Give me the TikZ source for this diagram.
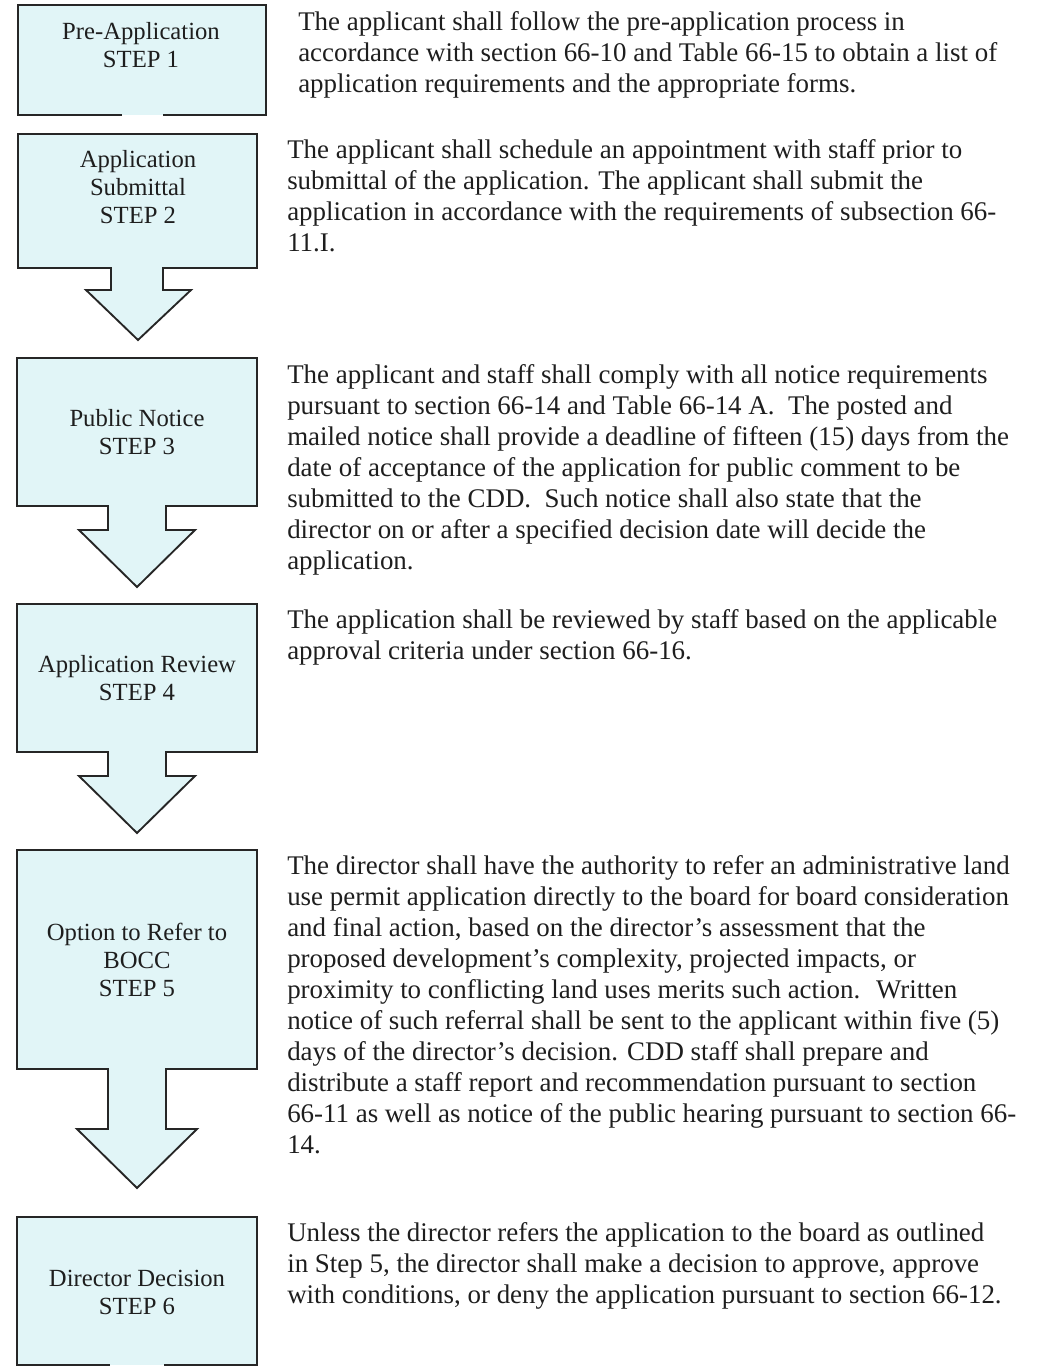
\documentclass[tikz,border=0pt]{standalone}
\usepackage{fontspec}
\setmainfont{Liberation Serif}
\usepackage{tikz}
\usetikzlibrary{positioning}
\definecolor{boxfill}{RGB}{225,245,247}
\definecolor{inkgray}{RGB}{30,30,30}
\tikzset{
    stepshape/.style={draw=black!85, fill=boxfill, line width=1.4pt, line join=miter},
    steplabel/.style={align=center, text=inkgray, inner sep=0pt, font=\fontsize{18.5}{21}\selectfont},
    steptext/.style={align=left, anchor=north west, text=inkgray, inner sep=0pt, font=\fontsize{20.2}{23.3}\selectfont}
}

\begin{document}
\begin{tikzpicture}[x=0.75pt, y=-0.75pt]
    \useasboundingbox (0,0) rectangle (1048,1366);
    % Shapes
    \draw [stepshape] (122,115) -- (18,115) -- (18,5) -- (266,5) -- (266,115) -- (163,115);
    \draw [stepshape] (18,134) -- (257,134) -- (257,268) -- (163,268) -- (163,290) -- (191,290)
        -- (138,340) -- (86,290) -- (111,290) -- (111,268) -- (18,268) -- cycle;
    \draw [stepshape] (17,358) -- (257,358) -- (257,506) -- (166,506) -- (166,530) -- (195,530)
        -- (137,587) -- (79,530) -- (108,530) -- (108,506) -- (17,506) -- cycle;
    \draw [stepshape] (17,604) -- (257,604) -- (257,752) -- (166,752) -- (166,776) -- (195,776)
        -- (137,833) -- (79,776) -- (108,776) -- (108,752) -- (17,752) -- cycle;
    \draw [stepshape] (17,850) -- (257,850) -- (257,1069) -- (166,1069) -- (166,1129) -- (197,1129)
        -- (137,1188) -- (77,1129) -- (108,1129) -- (108,1069) -- (17,1069) -- cycle;
    \fill [boxfill] (17,1217) rectangle (257,1365);
    \draw [stepshape, fill=none] (110,1365) -- (17,1365) -- (17,1217) -- (257,1217) -- (257,1365) -- (164,1365);
    % Step labels
    \node (s1) [steplabel] at (141,45) {Pre-Application\\STEP 1};
    \node (s2) [steplabel] at (138,187) {Application\\Submittal\\STEP 2};
    \node (s3) [steplabel] at (137,432) {Public Notice\\STEP 3};
    \node (s4) [steplabel] at (137,678) {Application Review\\STEP 4};
    \node (s5) [steplabel] at (137,960) {Option to Refer to\\BOCC\\STEP 5};
    \node (s6) [steplabel] at (137,1292) {Director Decision\\STEP 6};
    % Descriptions
    \node (d1) [steptext] at (298,11) {The applicant shall follow the pre-application process in\\
        accordance with section 66-10 and Table 66-15 to obtain a list of\\
        application requirements and the appropriate forms.};
    \node (d2) [steptext] at (287,139) {The applicant shall schedule an appointment with staff prior to\\
        submittal of the application. The applicant shall submit the\\
        application in accordance with the requirements of subsection 66-\\
        11.I.};
    \node (d3) [steptext] at (287,364) {The applicant and staff shall comply with all notice requirements\\
        pursuant to section 66-14 and Table 66-14 A.~ The posted and\\
        mailed notice shall provide a deadline of fifteen (15) days from the\\
        date of acceptance of the application for public comment to be\\
        submitted to the CDD.~ Such notice shall also state that the\\
        director on or after a specified decision date will decide the\\
        application.};
    \node (d4) [steptext] at (287,609) {The application shall be reviewed by staff based on the applicable\\
        approval criteria under section 66-16.};
    \node (d5) [steptext] at (287,855) {The director shall have the authority to refer an administrative land\\
        use permit application directly to the board for board consideration\\
        and final action, based on the director’s assessment that the\\
        proposed development’s complexity, projected impacts, or\\
        proximity to conflicting land uses merits such action.~ Written\\
        notice of such referral shall be sent to the applicant within five (5)\\
        days of the director’s decision. CDD staff shall prepare and\\
        distribute a staff report and recommendation pursuant to section\\
        66-11 as well as notice of the public hearing pursuant to section 66-\\
        14.};
    \node (d6) [steptext] at (287,1222) {Unless the director refers the application to the board as outlined\\
        in Step 5, the director shall make a decision to approve, approve\\
        with conditions, or deny the application pursuant to section 66-12.};
\end{tikzpicture}
\end{document}
